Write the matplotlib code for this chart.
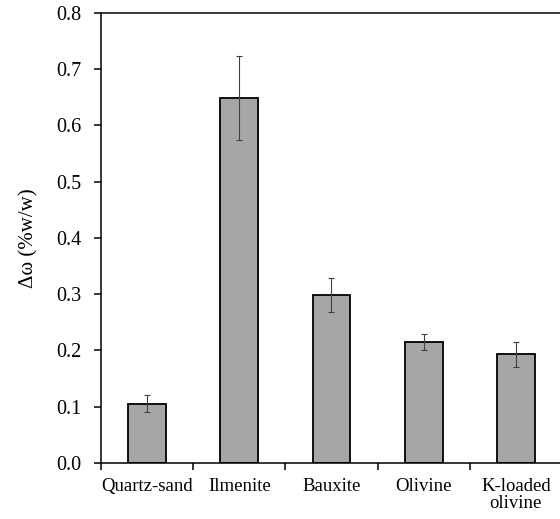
import matplotlib.pyplot as plt

materials = ['Quartz-sand', 'Ilmenite', 'Bauxite', 'Olivine', 'K-loaded\nolivine']
delta_omega = [0.105, 0.649, 0.298, 0.215, 0.193]
errors = [0.015, 0.074, 0.030, 0.014, 0.022]

plt.rcParams['font.family'] = ['Liberation Serif', 'DejaVu Serif']

fig = plt.figure(figsize=(5.6, 5.19), dpi=100)
ax = fig.add_axes([0.1804, 0.1079, 0.823, 0.8671])

x = range(len(materials))
ax.bar(x, delta_omega, width=0.41, color='#a6a6a6', edgecolor='black', linewidth=1.3,
       yerr=errors, error_kw={'ecolor': '#404040', 'elinewidth': 0.8, 'capsize': 2, 'capthick': 0.8})

ax.set_xlim(-0.5, 4.5)
ax.set_ylim(0, 0.8)
ax.set_yticks([i / 10 for i in range(9)])
ax.set_yticklabels([f'{i / 10:.1f}' for i in range(9)], fontsize=14.5)
ax.set_xticks(list(x))
ax.set_xticklabels(materials, fontsize=13.5, linespacing=0.95)
ax.set_xticks([i - 0.5 for i in range(6)], minor=True)
ax.tick_params(axis='x', which='major', length=0, pad=11)
ax.tick_params(axis='x', which='minor', length=5, width=1.1, direction='out')
ax.tick_params(axis='y', length=5, width=1.1, direction='out', pad=9)

ax.spines['right'].set_visible(False)
for s in ['left', 'bottom', 'top']:
    ax.spines[s].set_linewidth(1.1)

ax.set_ylabel('Δω (%w/w)', fontsize=15, labelpad=13)

fig.savefig('out.png', dpi=100)
